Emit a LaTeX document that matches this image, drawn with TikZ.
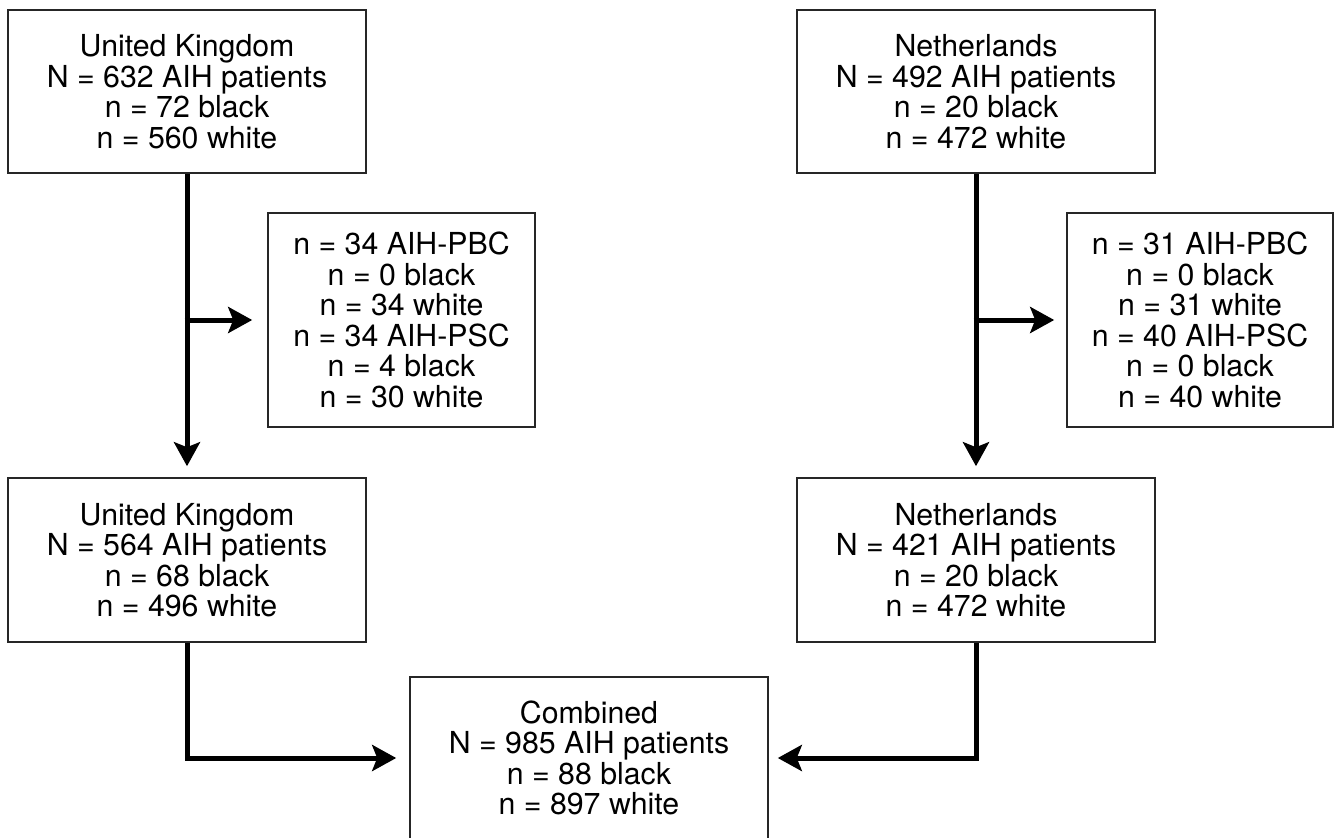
\documentclass[tikz,border=0pt]{standalone}
\usepackage{fontspec}
\setmainfont{TeX Gyre Heros}
\usetikzlibrary{arrows.meta}
\begin{document}
\begin{tikzpicture}[x=1pt,y=-1pt,
  box/.style={draw=black!85, line width=1.6pt, rectangle, align=center, inner sep=0pt,
    font=\fontsize{30.3}{30.5}\selectfont},
  flow/.style={line width=5pt, -{Stealth[length=24pt,width=26pt,inset=5pt]}}]
\useasboundingbox (0,0) rectangle (1334,838);
\clip (0,0) rectangle (1334,838);
\node[box, minimum width=358pt, minimum height=163pt] (uk1) at (187,91.5)
  {United Kingdom\\N = 632 AIH patients\\n = 72 black\\n = 560 white};
\node[box, minimum width=358pt, minimum height=163pt] (nl1) at (976,91.5)
  {Netherlands\\N = 492 AIH patients\\n = 20 black\\n = 472 white};
\node[box, minimum width=267pt, minimum height=214pt] (ukx) at (401.5,320)
  {n = 34 AIH-PBC\\n = 0 black\\n = 34 white\\n = 34 AIH-PSC\\n = 4 black\\n = 30 white};
\node[box, minimum width=266pt, minimum height=214pt] (nlx) at (1200,320)
  {n = 31 AIH-PBC\\n = 0 black\\n = 31 white\\n = 40 AIH-PSC\\n = 0 black\\n = 40 white};
\node[box, minimum width=358pt, minimum height=164pt] (uk2) at (187,560)
  {United Kingdom\\N = 564 AIH patients\\n = 68 black\\n = 496 white};
\node[box, minimum width=358pt, minimum height=164pt] (nl2) at (976,560)
  {Netherlands\\N = 421 AIH patients\\n = 20 black\\n = 472 white};
\node[box, minimum width=358pt, minimum height=162pt] (comb) at (589,758)
  {Combined\\N = 985 AIH patients\\n = 88 black\\n = 897 white};
\coordinate (ukb) at (uk1.south |- ukx.west);
\coordinate (nlb) at (nl1.south |- nlx.west);
\coordinate (ukc) at (uk2.south |- comb.west);
\coordinate (nlc) at (nl2.south |- comb.east);
\draw[flow, shorten >=11pt] (uk1.south) -- (uk2.north);
\draw[flow, shorten >=11pt] (nl1.south) -- (nl2.north);
\draw[flow, shorten >=15pt] ([xshift=-2.5pt]ukb) -- (ukx.west);
\draw[flow, shorten >=12pt] ([xshift=-2.5pt]nlb) -- (nlx.west);
\draw[flow, shorten >=13pt] (uk2.south) -- (ukc) -- (comb.west);
\draw[flow, shorten >=9pt] (nl2.south) -- (nlc) -- (comb.east);
\end{tikzpicture}
\end{document}
